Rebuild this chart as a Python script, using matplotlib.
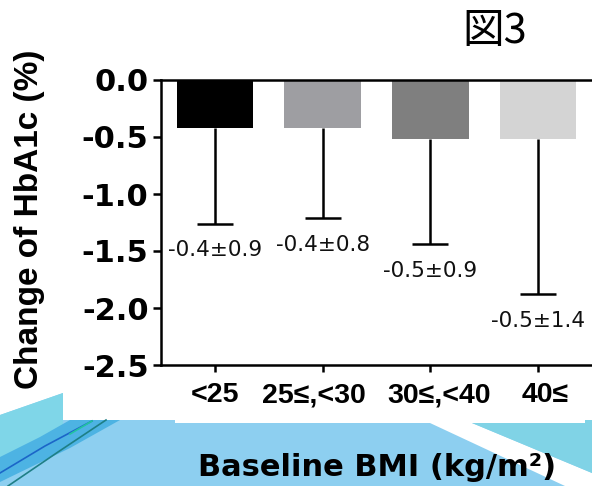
import matplotlib
matplotlib.use("Agg")
import matplotlib.pyplot as plt
import numpy as np

# データ
categories = ["<25", "25≤,<30", "30≤,<40", "40≤"]
mean_change = [-0.42, -0.42, -0.52, -0.52]
sd_change = [0.84, 0.79, 0.92, 1.36]
value_labels = ["-0.4±0.9", "-0.4±0.8", "-0.5±0.9", "-0.5±1.4"]
bar_colors = ["#000000", "#9e9ea2", "#7f7f7f", "#d4d4d4"]
y_ticks = [0.0, -0.5, -1.0, -1.5, -2.0, -2.5]
y_tick_labels = ["0.0", "-0.5", "-1.0", "-1.5", "-2.0", "-2.5"]

# x ラベルのずれ (ポイント) - 元の図ではテキストボックスで配置されている
label_shift = [0, -6, 6, 5]

W, H = 592, 486
fig = plt.figure(figsize=(W / 100, H / 100), dpi=100)

# スライドの背景 (ピクセル座標, y は下向き)
bg = fig.add_axes([0, 0, 1, 1])
bg.set_xlim(0, W)
bg.set_ylim(H, 0)
bg.axis("off")
bg.fill([0, 63, W, W, 0], [415, 393, 393, H, H], color="#8dcff0", lw=0)
bg.fill([0, 63, 63, 0], [415, 393, 440, 460], color="#7fd6e8", lw=0)
bg.fill([0, 40, 70, 120, 70, 0], [457, 437, 420, 420, 448, 482], color="#4db3e3", lw=0)
bg.plot([0, 45, 92], [473, 446, 421], color="#1b66c8", lw=1.2)
bg.plot([70, 92], [434, 421], color="#22c4a0", lw=1.2)
bg.plot([8, 58, 106], [486, 452, 420], color="#1e7f86", lw=1.2)
bg.fill([430, 472, W, W, 565], [423, 423, 473, H, H], color="white", lw=0)
bg.fill([472, 585, 585, W, W], [423, 423, 420, 420, 473], color="#80d3e6", lw=0)
# グラフ画像の白い部分
bg.fill([63, W, W, 63], [0, 0, 420, 420], color="white", lw=0)
bg.fill([175, 585, 585, 175], [0, 0, 423, 423], color="white", lw=0)

# 棒グラフ
ax = fig.add_axes([161 / W, 1 - 365 / H, (W - 161) / W, 285 / H])
ax.patch.set_alpha(0)
x = np.arange(len(categories))
ax.bar(x, mean_change, width=0.71, color=bar_colors, zorder=1.5)
eb = ax.errorbar(x, mean_change, yerr=[sd_change, [0] * len(x)], fmt="none",
                 ecolor="black", elinewidth=1.8, capsize=13, capthick=1.8, zorder=1.4)
# 上側のキャップは不要
eb[1][1].set_visible(False)

for xi, m, s, lbl in zip(x, mean_change, sd_change, value_labels):
    ax.annotate(lbl, (xi, m - s), xytext=(0, -12), textcoords="offset points",
                ha="center", va="top", fontsize=15.5, color="#111111",
                family="DejaVu Sans")

ax.set_xlim(-0.5, 3.5)
ax.set_ylim(-2.5, 0)
ax.spines["right"].set_visible(False)
for side in ["top", "left", "bottom"]:
    ax.spines[side].set_linewidth(1.8)

ax.set_yticks(y_ticks, y_tick_labels)
ax.tick_params(axis="y", length=6, width=1.8, pad=3, labelsize=22)
for lab in ax.get_yticklabels():
    lab.set_fontweight("bold")
    lab.set_family("DejaVu Sans")

ax.set_xticks(x)
ax.set_xticklabels([])
ax.tick_params(axis="x", length=5, width=1.8)
for xi, cat, dx in zip(x, categories, label_shift):
    ax.annotate(cat, (xi, -2.5), xytext=(dx, -12.5), textcoords="offset points",
                ha="center", va="top", fontsize=20.5, fontweight="bold",
                family=["Liberation Sans", "DejaVu Sans"], annotation_clip=False)

fig.text(30 / W, 1 - 219 / H, "Change of HbA1c (%)", rotation=90,
         ha="center", va="center", fontsize=24, fontweight="bold",
         family="Liberation Sans")
fig.text(377 / W, 1 - 467 / H, "Baseline BMI (kg/m²)", ha="center", va="center",
         fontsize=22, fontweight="bold", family="DejaVu Sans")
fig.text(495 / W, 1 - 31 / H, "図3", ha="center", va="center", fontsize=30,
         family=["Noto Sans CJK JP", "DejaVu Sans"])

fig.savefig("out.png", dpi=100)
